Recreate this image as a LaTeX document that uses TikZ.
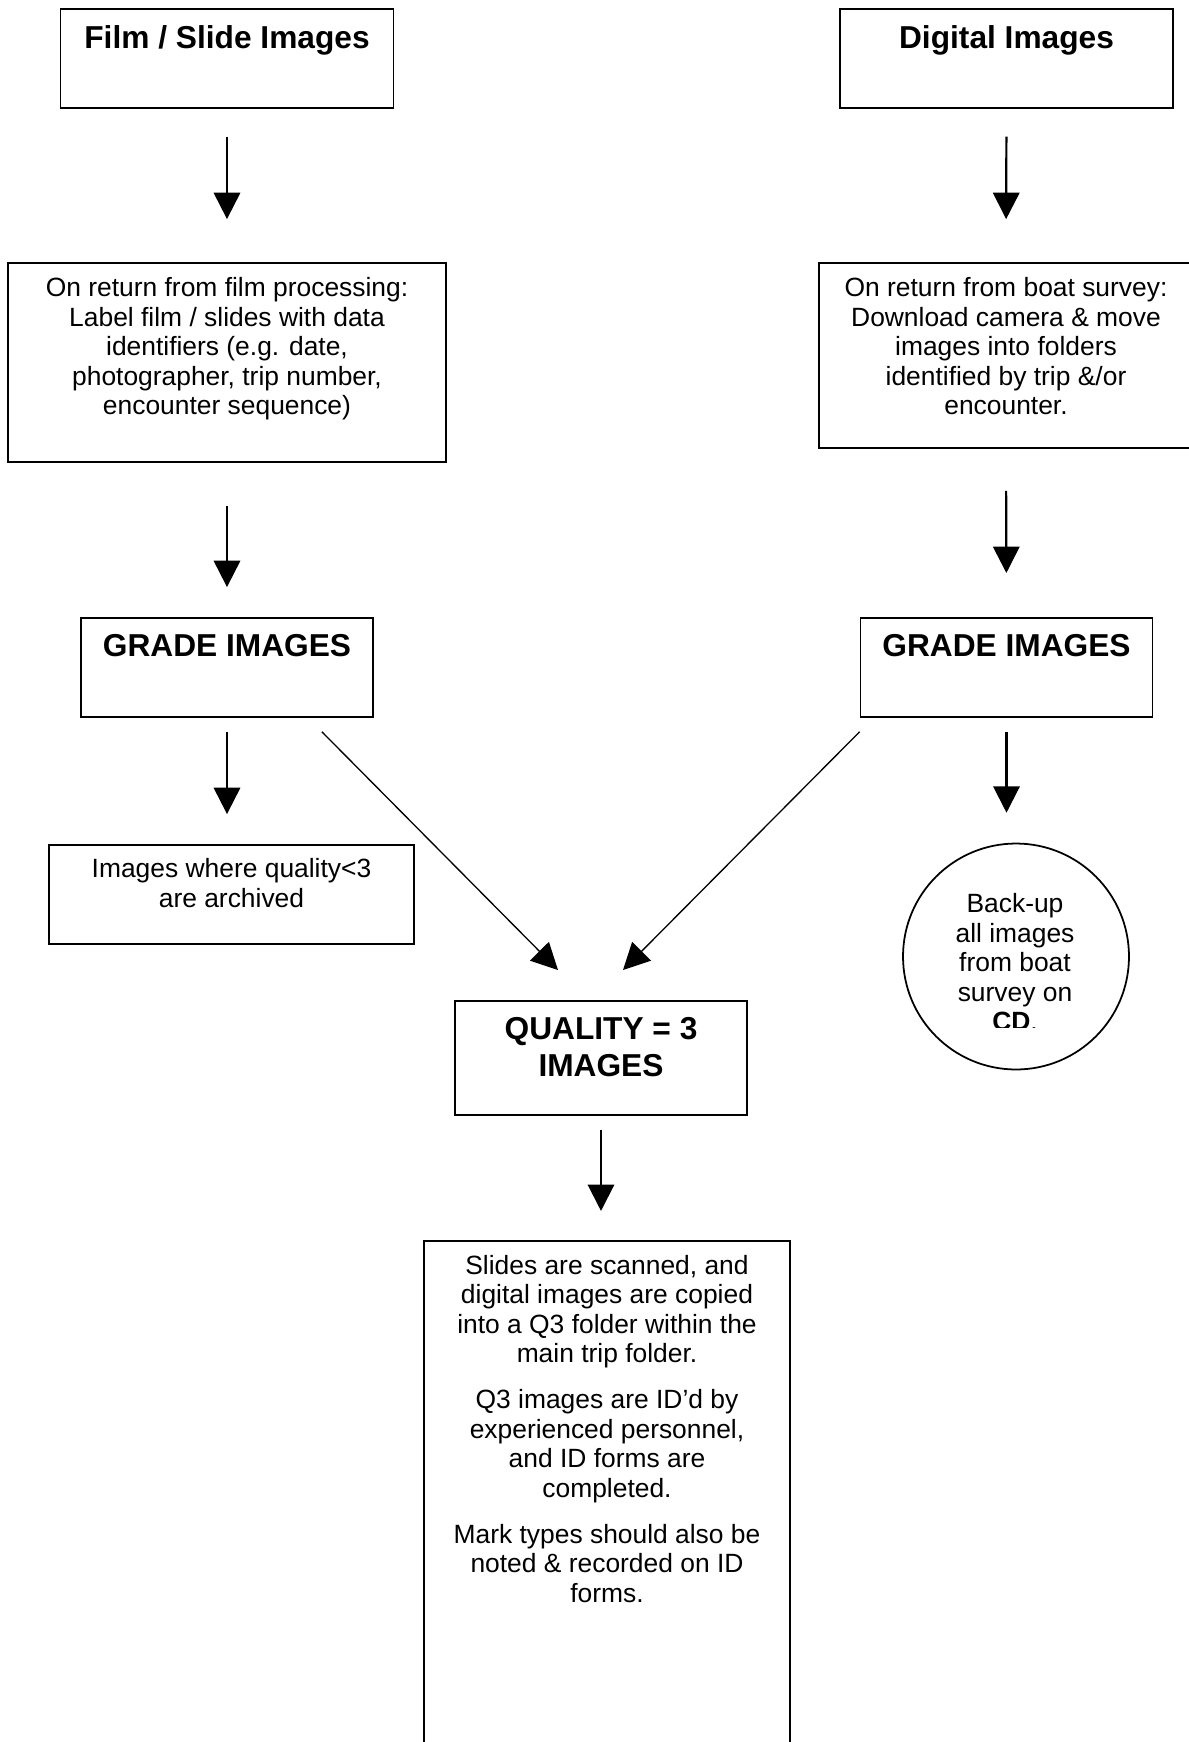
\documentclass[tikz,border=0pt]{standalone}
\usepackage{fontspec}
\setmainfont{Liberation Sans}
\usepackage{tikz}
\usetikzlibrary{positioning, shapes, arrows.meta, calc}

\newcommand{\boxtext}[4][6.7pt]{\parbox[t][#3][t]{#2}{\centering\vspace*{#1}#4}}

\tikzset{
  box/.style={draw, line width=0.8pt, inner sep=0pt, anchor=north, font=\fontsize{12}{13.4}\selectfont},
  head/.style={box, font=\fontsize{14.4}{16.7}\selectfont\bfseries},
  roundbox/.style={draw, circle, line width=0.8pt, minimum size=102.7pt, inner sep=0pt},
  arr/.style={-{Triangle[length=12pt, width=12pt]}, line width=1pt},
  diag/.style={arr, line width=0.6pt}
}

\begin{document}
\begin{tikzpicture}[x=0.4545pt, y=-0.4545pt]
                \useasboundingbox (0,0) rectangle (1189,1742);
                \node[head] (Film) at (227,8) {\boxtext[7.4pt]{151.4pt}{45pt}{Film / Slide Images}};
                \node[head] (Digital) at (1006.5,8) {\boxtext[7.4pt]{151.4pt}{45pt}{Digital Images}};
                \node[box] (FilmLabel) at (227,262) {\boxtext{199.1pt}{90.4pt}{On return from film processing:\\Label film / slides with data\\identifiers (e.g. date,\\photographer, trip number,\\encounter sequence)}};
                \node[box] (DigitalLabel) at (1006,262) {\boxtext{170pt}{84.1pt}{On return from boat survey:\\Download camera \& move\\images into folders\\identified by trip \&/or\\encounter.}};
                \node[head] (GradeFilm) at (227,617) {\boxtext[7.3pt]{132.7pt}{45pt}{GRADE IMAGES}};
                \node[head] (GradeDigital) at (1006.5,617) {\boxtext[7.3pt]{132.7pt}{45pt}{GRADE IMAGES}};
                \node[box] (Archived) at (231.5,844) {\boxtext[6.3pt]{165.9pt}{45pt}{Images where quality<3\\are archived}};
                \node[roundbox] (Backup) at (1016,956.5) {};
                \node[head] (Quality) at (601,1000) {\boxtext[7.7pt]{132.7pt}{51.8pt}{QUALITY = 3\\IMAGES}};
                \node[box] (IdForms) at (607,1240) {\boxtext[6.5pt]{166.4pt}{254.5pt}{Slides are scanned, and\\digital images are copied\\into a Q3 folder within the\\main trip folder.\par\vspace{7.5pt}Q3 images are ID’d by\\experienced personnel,\\and ID forms are\\completed.\par\vspace{7.5pt}Mark types should also be\\noted \& recorded on ID\\forms.}};
                \begin{scope}
                    \clip (900,880) rectangle (1130,1027);
                    \node[anchor=north, align=center, inner sep=0pt, font=\fontsize{12}{13.4}\selectfont] (BackupText) at (1015,893) {Back-up\\all images\\from boat\\survey on\\{\bfseries CD}.};
                \end{scope}
                \draw[arr, shorten <=12.7pt, shorten >=19.5pt] (Film.south) -- (FilmLabel.north);
                \draw[arr, shorten <=12.7pt, shorten >=19.5pt] (Digital.south) -- (DigitalLabel.north);
                \draw[arr, shorten <=19.5pt, shorten >=13.6pt] (FilmLabel.south) -- (GradeFilm.north);
                \draw[arr, shorten <=19.1pt, shorten >=20pt] (DigitalLabel.south) -- (GradeDigital.north);
                \draw[arr, shorten <=6.4pt, shorten >=13.6pt] (GradeFilm.south) -- (GradeFilm.south |- Archived.north);
                \draw[arr, shorten <=6.4pt, shorten >=13.6pt] (GradeDigital.south) -- (GradeDigital.south |- Backup.north);
                \draw[diag] ($(GradeFilm.south east)+(-52,14)$) -- ($(Quality.north)+(-43,-30)$);
                \draw[diag] ($(GradeDigital.south west)+(0,14)$) -- ($(Quality.north)+(22,-30)$);
                \draw[arr, shorten <=6.4pt, shorten >=13.2pt] (Quality.south) -- (Quality.south |- IdForms.north);
            \end{tikzpicture}
\end{document}
